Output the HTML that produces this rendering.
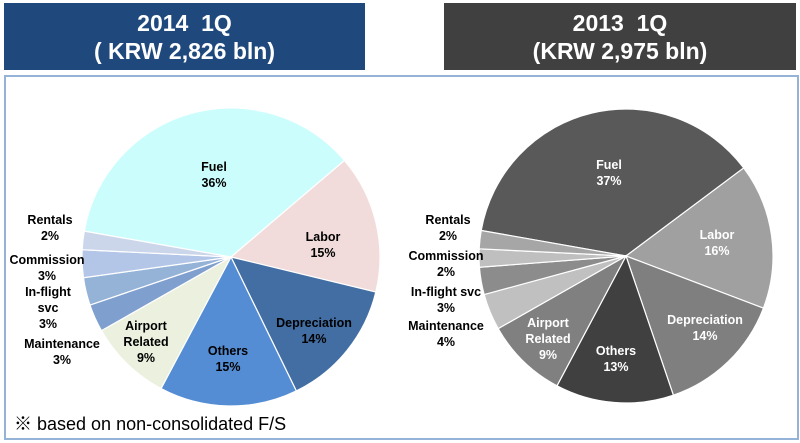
<!DOCTYPE html>
<html><head><meta charset="utf-8"><style>
body{margin:0;width:800px;height:443px;background:#fff;overflow:hidden;font-family:"Liberation Sans",sans-serif;}
.hdr{position:absolute;top:3px;height:67px;color:#fff;font-weight:bold;font-size:23px;line-height:28px;text-align:center;display:flex;flex-direction:column;justify-content:center;}
</style></head><body>
<div class="hdr" style="left:4px;width:361px;background:#1f497d;">2014&nbsp; 1Q<br>( KRW 2,826 bln)</div>
<div class="hdr" style="left:444px;width:352px;background:#404040;">2013&nbsp; 1Q<br>(KRW 2,975 bln)</div>
<svg width="800" height="443" style="position:absolute;left:0;top:0">
<rect x="5" y="76" width="793" height="363" fill="none" stroke="#95b3d7" stroke-width="2"/>
<g id="left"></g><g id="right"></g>
<text x="14" y="430" font-size="18" fill="#000" font-family="Liberation Sans, Noto Sans CJK JP, sans-serif">※ based on non-consolidated F/S</text>
</svg>
<script>
const categories=["Fuel","Labor","Depreciation","Others","Airport Related","Maintenance","In-flight svc","Commission","Rentals"];
const values2014=[36,15,14,15,9,3,3,3,2];
const values2013=[37,16,14,13,9,4,3,2,2];
const colors2014=["#ccfdfd","#f2dcdb","#426ea3","#548dd4","#ebf1de","#7f9fcf","#95b3d7","#b3c6e7","#ccd6ea"];
const colors2013=["#595959","#a0a0a0","#7f7f7f","#404040","#808080","#c0c0c0","#8c8c8c","#bfbfbf","#a6a6a6"];
const NS="http://www.w3.org/2000/svg";
function pie(gid,vals,cols,cx,cy,r,start,labelPos,lblColors,yr){
 const g=document.getElementById(gid);
 const tot=vals.reduce((a,b)=>a+b,0);
 let a=start;
 vals.forEach((v,i)=>{
  const a2=a-v/tot*360;
  const p=t=>[cx+r*Math.cos(t*Math.PI/180),cy-r*Math.sin(t*Math.PI/180)];
  const [x1,y1]=p(a),[x2,y2]=p(a2);
  const large=(a-a2)>180?1:0;
  const path=document.createElementNS(NS,"path");
  path.setAttribute("d",`M${cx},${cy}L${x1},${y1}A${r},${r} 0 ${large} 1 ${x2},${y2}Z`);
  path.setAttribute("fill",cols[i]);path.setAttribute("stroke","#fff");path.setAttribute("stroke-width","1.2");
  
  
  g.appendChild(path);
  const lp=labelPos[i];
  const lines=lp[2].concat([v+"%"]);
  const t=document.createElementNS(NS,"text");
  t.setAttribute("text-anchor","middle");t.setAttribute("font-size","12.5");t.setAttribute("font-weight","bold");
  t.setAttribute("fill",lblColors[i]);
  
  
  lines.forEach((l,k)=>{const ts=document.createElementNS(NS,"tspan");ts.setAttribute("x",lp[0]);ts.setAttribute("y",lp[1]+k*16);ts.textContent=l;t.appendChild(ts);});
  g.appendChild(t);
  a=a2;
 });
}
pie("left",values2014,colors2014,231,257,149,170,[
 [214,171,["Fuel"]],[323,241,["Labor"]],[314,327,["Depreciation"]],[228,355,["Others"]],[146,330,["Airport","Related"]],[62,348,["Maintenance"]],[48,296,["In-flight","svc"]],[47,264,["Commission"]],[50,224,["Rentals"]]
],["#000","#000","#000","#000","#000","#000","#000","#000","#000"],"2014");
pie("right",values2013,colors2013,626,256,147,170,[
 [609,169,["Fuel"]],[717,239,["Labor"]],[705,324,["Depreciation"]],[616,355,["Others"]],[548,327,["Airport","Related"]],[446,330,["Maintenance"]],[446,296,["In-flight svc"]],[446,260,["Commission"]],[448,224,["Rentals"]]
],["#fff","#fff","#fff","#fff","#fff","#000","#000","#000","#000"],"2013");
</script>
</body></html>
